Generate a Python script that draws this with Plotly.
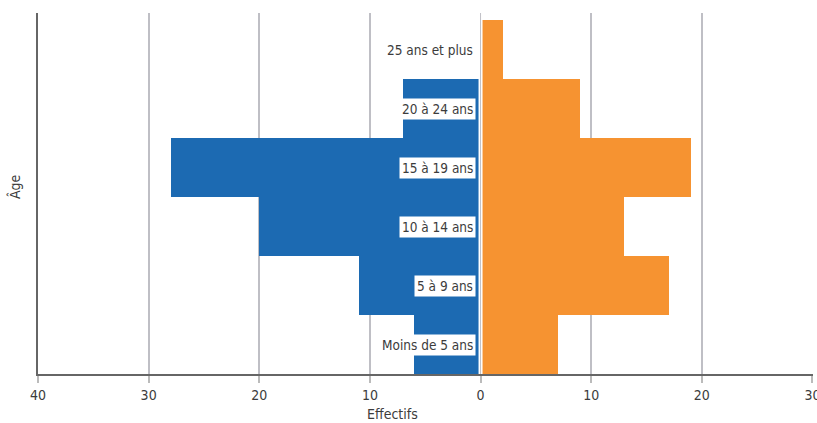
import plotly.graph_objects as go

categories = ["Moins de 5 ans", "5 à 9 ans", "10 à 14 ans", "15 à 19 ans", "20 à 24 ans", "25 ans et plus"]
left_values = [6, 11, 20, 28, 7, 0]      # blue, drawn to the left
right_values = [7, 17, 13, 19, 9, 2]     # orange, drawn to the right
tick_values = [-40, -30, -20, -10, 0, 10, 20, 30]
tick_labels = ["40", "30", "20", "10", "0", "10", "20", "30"]

FONT = "DejaVu Sans Condensed, Liberation Sans Narrow, sans-serif"
BLUE = "#1c6ab2"
ORANGE = "#f69331"

fig = go.Figure()
fig.add_trace(go.Bar(
    y=categories, x=[-v for v in left_values], orientation="h",
    marker=dict(color=BLUE, line=dict(width=0)),
    showlegend=False, hoverinfo="skip"))
fig.add_trace(go.Bar(
    y=categories, x=right_values, orientation="h",
    marker=dict(color=ORANGE, line=dict(width=0)),
    showlegend=False, hoverinfo="skip"))

# white gap at zero with a faint grey line in the middle
fig.add_shape(type="line", xref="x", yref="paper", x0=0, x1=0, y0=0, y1=1,
              line=dict(color="white", width=4), layer="above")
fig.add_shape(type="line", xref="x", yref="paper", x0=0, x1=0, y0=0, y1=1,
              line=dict(color="rgba(150,150,160,0.6)", width=1), layer="above")

for cat in categories:
    fig.add_annotation(x=0, y=cat, xref="x", yref="y", text=cat, showarrow=False,
                       xanchor="right", xshift=-5, bgcolor="white", borderpad=2,
                       font=dict(family=FONT, size=13.5, color="#3c3c3c"))

fig.add_annotation(x=0.457, y=-0.083, xref="paper", yref="paper", text="Effectifs",
                   showarrow=False, xanchor="center", yanchor="top",
                   font=dict(family=FONT, size=14, color="#3c3c3c"))
fig.add_annotation(x=-0.03, y=0.52, xref="paper", yref="paper", text="Âge",
                   showarrow=False, textangle=-90, xanchor="center", yanchor="middle",
                   font=dict(family=FONT, size=14, color="#3c3c3c"))

fig.update_layout(
    width=817, height=423,
    margin=dict(l=38, r=4, t=13, b=49),
    barmode="overlay", bargap=0,
    plot_bgcolor="white", paper_bgcolor="white",
    font=dict(family=FONT, size=14, color="#3c3c3c"),
    xaxis=dict(range=[-40, 30.05], tickvals=tick_values, ticktext=tick_labels,
               automargin=False, ticklabeloverflow="allow",
               showgrid=True, gridcolor="rgba(128,128,140,0.5)", gridwidth=2,
               zeroline=False, showline=True, linecolor="#666", linewidth=2,
               ticks="outside", ticklen=7, tickcolor="#bbb", tickwidth=2,
               layer="above traces", tickfont=dict(family=FONT, size=14, color="#3c3c3c"),
               fixedrange=True),
    yaxis=dict(range=[-0.5, 5.62], showticklabels=False, showgrid=False,
               automargin=False,
               zeroline=False, showline=True, linecolor="#666", linewidth=2,
               ticks="", fixedrange=True),
)

fig.write_html(
    "out.html",
    config={"displayModeBar": False, "staticPlot": True},
    post_script="document.body.style.margin='0';document.body.style.overflow='hidden';"
                "document.documentElement.style.overflow='hidden';",
)
